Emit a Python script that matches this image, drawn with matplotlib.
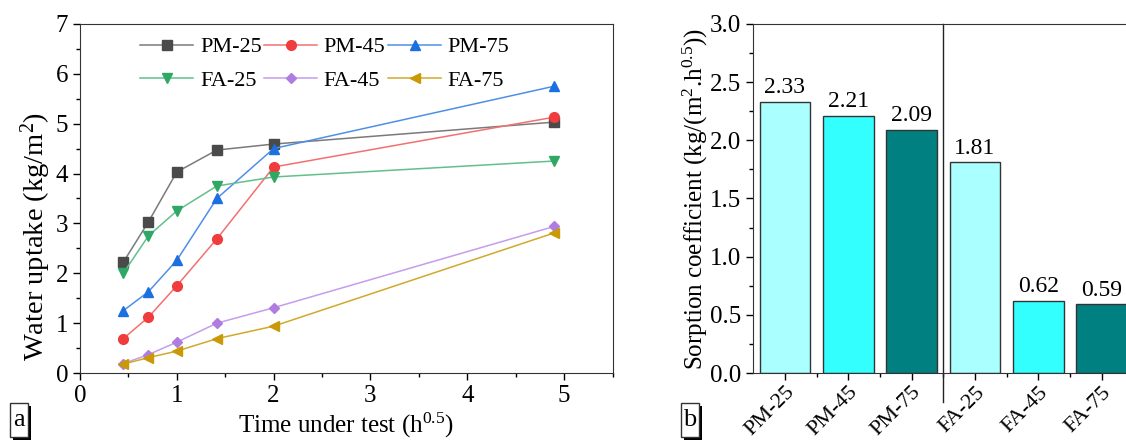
import matplotlib
matplotlib.use("Agg")
import matplotlib.pyplot as plt
from matplotlib.patches import Rectangle
from matplotlib.ticker import MultipleLocator

plt.rcParams.update({"font.family": "Liberation Serif", "font.size": 17,
                     "mathtext.fontset": "custom", "mathtext.rm": "Liberation Serif",
                     "mathtext.it": "Liberation Serif:italic"})

# panel a: water uptake vs sqrt(time)
time_sqrt = [0.447, 0.707, 1.0, 1.414, 2.0, 4.899]
series_names = ["PM-25", "PM-45", "PM-75", "FA-25", "FA-45", "FA-75"]
pm25 = [2.22, 3.03, 4.03, 4.47, 4.59, 5.03]
pm45 = [0.69, 1.12, 1.75, 2.69, 4.13, 5.13]
pm75 = [1.25, 1.63, 2.26, 3.50, 4.50, 5.75]
fa25 = [2.00, 2.75, 3.25, 3.75, 3.93, 4.25]
fa45 = [0.19, 0.37, 0.62, 1.00, 1.31, 2.94]
fa75 = [0.18, 0.31, 0.44, 0.69, 0.94, 2.81]

# panel b: sorption coefficient
coef = [2.33, 2.21, 2.09, 1.81, 0.62, 0.59]

markers = ["s", "o", "^", "v", "D", "<"]
mcolors = ["#4a4a4a", "#f03c3c", "#1b6fe0", "#2fa865", "#b07ce0", "#c99a06"]
lcolors = ["#7a7a7a", "#f47070", "#4f8fe8", "#62c08a", "#c49ded", "#d2a92a"]
bar_colors = ["#aaffff", "#33ffff", "#008080"] * 2

fig = plt.figure(figsize=(11.26, 4.41), dpi=100)

ax1 = fig.add_axes([0.071, 0.154, 0.473, 0.792])
lines = []
for name, ys, m, mc, lc in zip(series_names, [pm25, pm45, pm75, fa25, fa45, fa75],
                               markers, mcolors, lcolors):
    ln, = ax1.plot(time_sqrt, ys, color=lc, lw=1.1, marker=m, ms=7 if m != "D" else 5.5,
                   mfc=mc, mec=mc, label=name)
    lines.append(ln)
ax1.set_xlim(0, 5.5)
ax1.set_ylim(0, 7)
ax1.xaxis.set_major_locator(MultipleLocator(1))
ax1.xaxis.set_minor_locator(MultipleLocator(0.5))
ax1.yaxis.set_major_locator(MultipleLocator(1))
ax1.yaxis.set_minor_locator(MultipleLocator(0.5))
ax1.tick_params(which="major", direction="out", length=5, width=1, labelsize=18)
ax1.tick_params(which="minor", direction="out", length=3, width=1)
for s in ax1.spines.values():
    s.set_color("#333333")
ax1.set_xlabel("Time under test (h$^{0.5}$)", fontsize=18, labelpad=3)
ax1.set_ylabel("Water uptake (kg/m$^2$)", fontsize=20.5)
ax1.yaxis.set_label_coords(-0.05, 0.39)
# legend filled row by row: reorder for matplotlib's column-major fill
order = [0, 3, 1, 4, 2, 5]
ax1.legend([lines[i] for i in order], [series_names[i] for i in order],
           ncol=3, frameon=False, loc="upper left", bbox_to_anchor=(0.075, 1.02),
           handlelength=2.4, columnspacing=0.1, handletextpad=0.3, labelspacing=0.6,
           fontsize=16)

ax2 = fig.add_axes([0.669, 0.154, 0.3375, 0.792])
xpos = list(range(len(series_names)))
ax2.bar(xpos, coef, width=0.8, color=bar_colors, edgecolor="#333333", lw=1)
for x, v in zip(xpos, coef):
    ax2.text(x, v + 0.03, f"{v:.2f}", ha="center", va="bottom", fontsize=17)
ax2.set_xlim(-0.5, 5.5)
ax2.set_ylim(0, 3.0)
ax2.set_xticks(xpos)
ax2.set_xticklabels(series_names, rotation=45, ha="right", rotation_mode="anchor",
                    fontsize=16)
ax2.set_xticks([x + 0.5 for x in xpos[:-1]], minor=True)
ax2.yaxis.set_major_locator(MultipleLocator(0.5))
ax2.yaxis.set_minor_locator(MultipleLocator(0.25))
ax2.tick_params(which="major", direction="out", length=5, width=1)
ax2.tick_params(which="minor", direction="out", length=3, width=1)
ax2.tick_params(axis="y", labelsize=18)
ax2.tick_params(axis="x", which="major", pad=2)
ax2.spines["right"].set_visible(False)
for s in ax2.spines.values():
    s.set_color("#333333")
ax2.plot([2.5, 2.5], [-0.083, 1.0], color="#222222", lw=1,
         transform=ax2.get_xaxis_transform(), clip_on=False)
ax2.set_ylabel("Sorption coefficient (kg/(m$^2$.h$^{0.5}$))", fontsize=18)
ax2.yaxis.set_label_coords(-0.115, 0.5)

# panel letters in boxes with a black drop shadow (pixel coordinates)
W, H = 1126, 441
for x0, letter in [(10, "a"), (681, "b")]:
    y0, w, h = 403, 18, 34
    fig.patches.append(Rectangle(((x0 + 3) / W, 1 - (y0 + h + 3) / H), w / W, h / H,
                                 transform=fig.transFigure, fc="black", ec="none"))
    fig.patches.append(Rectangle((x0 / W, 1 - (y0 + h) / H), w / W, h / H,
                                 transform=fig.transFigure, fc="white", ec="#333333", lw=1))
    fig.text((x0 + w / 2) / W, 1 - (y0 + h / 2) / H, letter, fontsize=19,
             ha="center", va="center")

fig.savefig("out.png", dpi=100)
